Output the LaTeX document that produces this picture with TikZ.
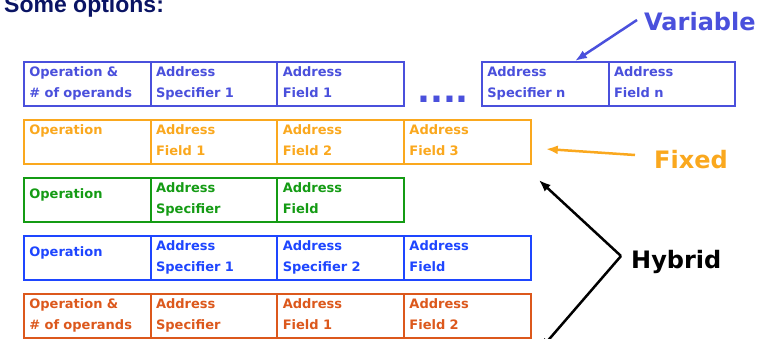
\documentclass[tikz,border=0pt]{standalone}
\usepackage{fontspec}
\setmainfont{DejaVu Sans}
\newfontfamily\titlefont{Liberation Sans}
\usetikzlibrary{positioning,calc,arrows.meta}

\definecolor{varblue}{RGB}{74,80,220}
\definecolor{fixorange}{RGB}{250,168,30}
\definecolor{hybgreen}{RGB}{20,155,20}
\definecolor{hybblue}{RGB}{30,70,255}
\definecolor{hybred}{RGB}{220,88,28}
\definecolor{navy}{RGB}{10,20,100}

\tikzset{
  cell/.style={draw, line width=2pt, minimum width=126.7pt, minimum height=44pt,
    text width=116pt, align=left, inner sep=0pt, anchor=north west,
    text height=9.5pt, text depth=24pt,
    font=\bfseries\fontsize{13}{21}\selectfont},
  oneline/.style={text depth=13pt},
  bigword/.style={inner sep=1pt, anchor=west, font=\bfseries\fontsize{24}{24}\selectfont},
  pointer/.style={line width=2.5pt, -{Latex[length=12pt,width=9pt]}}
}

\begin{document}
\begin{tikzpicture}[x=1pt,y=-1pt]
\useasboundingbox (0,0) rectangle (773,338);

\node[navy, anchor=base west, inner sep=0pt, font=\titlefont\bfseries\fontsize{23}{23}\selectfont] (title) at (4,12) {Some options:};

% Variable
\def\y{61}
\foreach \t [count=\i] in {Operation \&\\\# of operands, Address\\Specifier 1, Address\\Field 1}
    \node[cell, varblue] (v\i) at (23+126.7*\i-126.7,\y) {\t};
\node[cell, varblue] (v4) at (481,\y) {Address\\Specifier n};
\node[cell, varblue] (v5) at (607.7,\y) {Address\\Field n};
\node[varblue, anchor=base, inner sep=0pt, font=\bfseries\fontsize{34}{34}\selectfont] (dots) at (443,102) {....};

% Fixed
\def\y{119}
\foreach \t [count=\i] in {Operation\\\mbox{}, Address\\Field 1, Address\\Field 2, Address\\Field 3}
    \node[cell, fixorange] (f\i) at (23+126.7*\i-126.7,\y) {\t};

% Hybrid
\def\y{177}
\node[cell, oneline, hybgreen] (g1) at (23,\y) {Operation};
\foreach \t [count=\i from 2] in {Address\\Specifier, Address\\Field}
    \node[cell, hybgreen] (g\i) at (23+126.7*\i-126.7,\y) {\t};

\def\y{235}
\node[cell, oneline, hybblue] (b1) at (23,\y) {Operation};
\foreach \t [count=\i from 2] in {Address\\Specifier 1, Address\\Specifier 2, Address\\Field}
    \node[cell, hybblue] (b\i) at (23+126.7*\i-126.7,\y) {\t};

\def\y{293}
\foreach \t [count=\i] in {Operation \&\\\# of operands, Address\\Specifier, Address\\Field 1, Address\\Field 2}
    \node[cell, hybred] (h\i) at (23+126.7*\i-126.7,\y) {\t};

% labels
\node[bigword, varblue] (var) at (643,22) {Variable};
\node[bigword, fixorange] (fix) at (653,160) {Fixed};
\node[bigword] (hyb) at (630,262) {Hybrid};

\draw[pointer, varblue] ($(var.west)+(-6,-2)$) -- ($(v4.north west)!0.73!(v4.north east)$);
\draw[pointer, fixorange] ($(fix.west)+(-18,-5)$) -- ($(f4.east)+(14,7)$);

\coordinate (hv) at ($(hyb.west)+(-9,-6)$);
\draw[pointer] (hv) -- ($(f4.south east)+(7,15)$);
\draw[pointer] (hv) -- ($(h4.east)+(8,34)$);

\end{tikzpicture}
\end{document}
